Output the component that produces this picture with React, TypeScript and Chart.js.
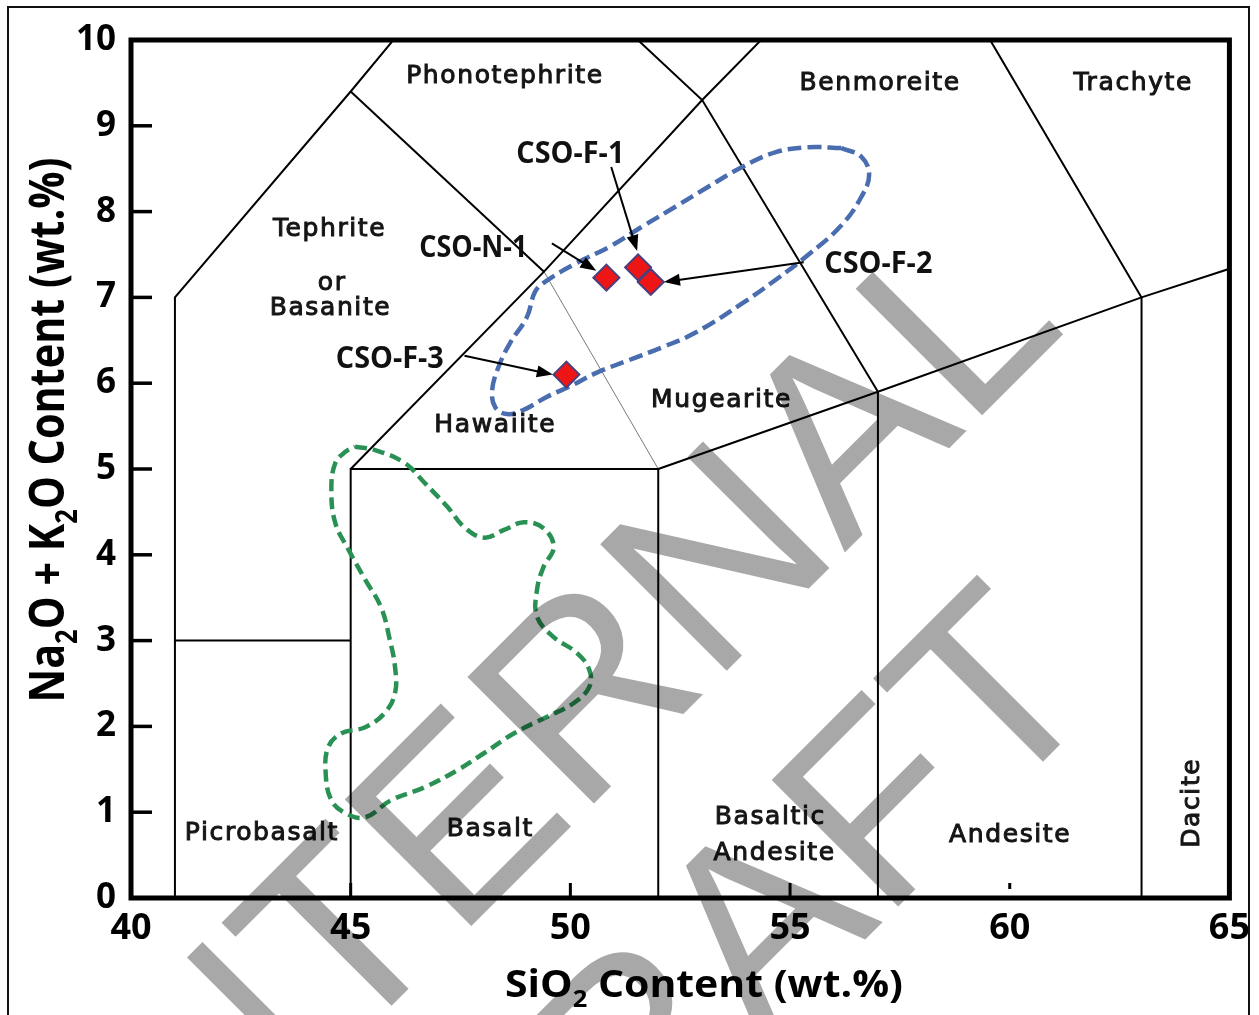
import React, { useEffect, useRef } from "react";
import { Chart, registerables } from "chart.js";

Chart.register(...registerables);

// ---------- axes ----------
const xTickValues = [40, 45, 50, 55, 60, 65];
const yTickValues = [0, 1, 2, 3, 4, 5, 6, 7, 8, 9, 10];
const xTickMarks = [45, 50, 55];
const yTickMarks = [1, 2, 3, 4, 5, 6, 7, 8, 9];

// ---------- TAS field boundaries (SiO2, Na2O+K2O) ----------
const picrobasaltLeft = [[41, 0], [41, 7], [45, 9.4], [48.4, 11.5]];
const picrobasaltTop = [[41, 3], [45, 3]];
const basaltBox = [[45, 0], [45, 5], [52, 5], [52, 0]];
const trachybasaltLine = [[45, 5], [49.4, 7.3], [53, 9.3], [57.6, 11.7]];
const phonotephriteLine = [[45, 9.4], [49.4, 7.3]];
const lowerAlkaliLine = [[52, 5], [57, 5.9], [63, 7], [69, 8]];
const benmoreiteLine = [[57, 0], [57, 5.9], [53, 9.3], [48.4, 11.5]];
const trachyteLine = [[63, 0], [63, 7], [57.6, 11.7]];
const hawaiiteMugeariteLine = [[49.4, 7.3], [52, 5]];

// ---------- samples ----------
const sampleNames = ["CSO-N-1", "CSO-F-1", "CSO-F-2", "CSO-F-3"];
const sampleSiO2 = [50.82, 51.54, 51.83, 49.91];
const sampleAlkali = [7.23, 7.35, 7.18, 6.1];

// label anchors for the samples and their arrows (data units)
const sampleLabelSiO2 = [47.79, 50.0, 57.01, 45.89];
const sampleLabelAlkali = [7.47, 8.57, 7.28, 6.18];
const arrowFromSiO2 = [49.58, 50.93, 55.31, 47.59];
const arrowFromAlkali = [7.63, 8.52, 7.41, 6.32];
const arrowToSiO2 = [50.59, 51.52, 52.13, 49.6];
const arrowToAlkali = [7.31, 7.54, 7.18, 6.1];

// ---------- reference fields (dashed outlines) ----------
const blueFieldSiO2 = [56.17, 55.4, 54.66, 53.91, 53.14, 52.4, 51.65, 50.89, 50.14, 49.39, 49.19, 49.01, 48.63, 48.38, 48.22, 48.29, 48.56, 48.94, 49.46, 49.98, 50.59, 51.34, 52.1, 52.85, 53.91, 54.66, 55.4, 56.17, 56.62, 56.8, 56.62, 56.17];
const blueFieldAlkali = [8.74, 8.75, 8.69, 8.52, 8.29, 8.06, 7.83, 7.59, 7.4, 7.17, 7.06, 6.77, 6.47, 6.21, 5.92, 5.72, 5.64, 5.69, 5.84, 5.96, 6.12, 6.27, 6.42, 6.59, 6.93, 7.2, 7.49, 7.84, 8.17, 8.43, 8.64, 8.74];
const greenFieldSiO2 = [45.1, 45.56, 46.23, 46.68, 47.2, 47.59, 48.04, 48.49, 48.94, 49.39, 49.62, 49.39, 49.24, 49.24, 49.62, 50.14, 50.43, 50.43, 50.07, 49.46, 48.72, 48.04, 47.43, 46.68, 45.92, 45.33, 44.88, 44.56, 44.43, 44.49, 44.79, 45.33, 45.78, 46.01, 46.01, 45.89, 45.69, 45.33, 44.95, 44.65, 44.56, 44.65, 44.88, 45.1];
const greenFieldAlkali = [5.26, 5.22, 5.07, 4.84, 4.56, 4.32, 4.2, 4.29, 4.38, 4.31, 4.09, 3.86, 3.59, 3.28, 3.04, 2.86, 2.66, 2.46, 2.27, 2.11, 1.92, 1.69, 1.49, 1.29, 1.14, 0.94, 0.99, 1.14, 1.46, 1.76, 1.92, 1.99, 2.16, 2.39, 2.69, 3.01, 3.39, 3.71, 4.06, 4.37, 4.76, 5.07, 5.2, 5.26];

// ---------- field names ----------
const fieldNames = ["Phonotephrite", "Benmoreite", "Trachyte", "Tephrite", "or", "Basanite", "Hawaiite", "Mugearite", "Picrobasalt", "Basalt", "Basaltic", "Andesite", "Andesite", "Dacite"];
const fieldNameSiO2 = [48.51, 57.05, 62.81, 44.52, 44.58, 44.54, 48.29, 53.44, 42.98, 48.18, 54.55, 54.65, 60.01, 64.3];
const fieldNameAlkali = [9.5, 9.42, 9.42, 7.72, 7.09, 6.79, 5.43, 5.72, 0.68, 0.72, 0.86, 0.44, 0.65, 1.11];
const fieldNameVertical = [false, false, false, false, false, false, false, false, false, false, false, false, false, true];

const watermarkWords = ["INTERNAL", "DRAFT"];

const toPoints = (xs: number[], ys: number[]) => xs.map((x, i) => ({ x, y: ys[i] }));
const pairs = (arr: number[][]) => arr.map(([x, y]) => ({ x, y }));

type Run = { t: string; sub?: boolean };

function drawRich(ctx: CanvasRenderingContext2D, runs: Run[], size: number, family: string, target: number) {
  const widths = runs.map((r) => {
    ctx.font = `bold ${r.sub ? size * 0.62 : size}px ${family}`;
    return ctx.measureText(r.t).width;
  });
  const total = widths.reduce((a, b) => a + b, 0);
  const sx = target / total;
  ctx.save();
  ctx.scale(sx, 1);
  let cx = -total / 2;
  ctx.textAlign = "left";
  ctx.textBaseline = "alphabetic";
  runs.forEach((r, i) => {
    ctx.font = `bold ${r.sub ? size * 0.62 : size}px ${family}`;
    ctx.fillText(r.t, cx, r.sub ? size * 0.27 : 0);
    cx += widths[i];
  });
  ctx.restore();
}

function drawArrow(ctx: CanvasRenderingContext2D, x1: number, y1: number, x2: number, y2: number) {
  const a = Math.atan2(y2 - y1, x2 - x1);
  const hl = 16;
  const hw = 6;
  const c = Math.cos(a);
  const s = Math.sin(a);
  ctx.beginPath();
  ctx.moveTo(x1, y1);
  ctx.lineTo(x2 - hl * 0.8 * c, y2 - hl * 0.8 * s);
  ctx.stroke();
  ctx.beginPath();
  ctx.moveTo(x2, y2);
  ctx.lineTo(x2 - hl * c + hw * s, y2 - hl * s - hw * c);
  ctx.lineTo(x2 - hl * c - hw * s, y2 - hl * s + hw * c);
  ctx.closePath();
  ctx.fill();
}

const decorPlugin = {
  id: "tasDecor",
  beforeDraw(chart: any) {
    const ctx = chart.ctx as CanvasRenderingContext2D;
    ctx.save();
    ctx.fillStyle = "#ffffff";
    ctx.fillRect(0, 0, chart.width, chart.height);
    ctx.restore();
  },
  afterDatasetsDraw(chart: any) {
    const ctx = chart.ctx as CanvasRenderingContext2D;
    const { left, right, top, bottom } = chart.chartArea;
    const xs = chart.scales.x;
    const ys = chart.scales.y;
    const px = (v: number) => xs.getPixelForValue(v);
    const py = (v: number) => ys.getPixelForValue(v);
    ctx.save();

    // plot frame
    ctx.strokeStyle = "#000";
    ctx.lineWidth = 5;
    ctx.lineCap = "square";
    ctx.beginPath();
    ctx.moveTo(left, top);
    ctx.lineTo(right, top);
    ctx.lineTo(right, bottom);
    ctx.lineTo(left, bottom);
    ctx.closePath();
    ctx.stroke();
    ctx.lineCap = "butt";

    // inner tick marks
    ctx.lineWidth = 3.5;
    yTickMarks.forEach((v) => {
      ctx.beginPath();
      ctx.moveTo(left, py(v));
      ctx.lineTo(left + 21, py(v));
      ctx.stroke();
    });
    ctx.lineWidth = 3;
    xTickMarks.forEach((v) => {
      ctx.beginPath();
      ctx.moveTo(px(v), bottom);
      ctx.lineTo(px(v), bottom - 15);
      ctx.stroke();
    });
    ctx.fillRect(px(60) - 1.5, bottom - 15, 3, 6);

    // arrows
    ctx.lineWidth = 2;
    ctx.fillStyle = "#000";
    sampleNames.forEach((_, i) => {
      drawArrow(ctx, px(arrowFromSiO2[i]), py(arrowFromAlkali[i]), px(arrowToSiO2[i]), py(arrowToAlkali[i]));
    });

    // sample labels
    ctx.fillStyle = "#111";
    sampleNames.forEach((n, i) => {
      ctx.save();
      ctx.translate(px(sampleLabelSiO2[i]), py(sampleLabelAlkali[i]));
      drawRich(ctx, [{ t: n }], 31, '"Open Sans"', 108);
      ctx.restore();
    });

    // field names
    ctx.fillStyle = "#151515";
    ctx.strokeStyle = "#151515";
    ctx.lineWidth = 1;
    ctx.textAlign = "center";
    ctx.textBaseline = "alphabetic";
    ctx.font = '25px "DejaVu Sans"';
    (ctx as any).letterSpacing = "1.6px";
    fieldNames.forEach((n, i) => {
      ctx.save();
      ctx.translate(px(fieldNameSiO2[i]), py(fieldNameAlkali[i]));
      if (fieldNameVertical[i]) ctx.rotate(-Math.PI / 2);
      ctx.fillText(n, 0, 0);
      ctx.strokeText(n, 0, 0);
      ctx.restore();
    });
    (ctx as any).letterSpacing = "0px";

    // axis titles
    ctx.fillStyle = "#000";
    ctx.save();
    ctx.translate(704, 997);
    drawRich(ctx, [{ t: "SiO" }, { t: "2", sub: true }, { t: " Content (wt.%)" }], 38, '"Open Sans"', 398);
    ctx.restore();
    ctx.save();
    ctx.translate(64, 430);
    ctx.rotate(-Math.PI / 2);
    drawRich(ctx, [{ t: "Na" }, { t: "2", sub: true }, { t: "O + K" }, { t: "2", sub: true }, { t: "O Content (wt.%)" }], 49, '"Open Sans"', 545);
    ctx.restore();

    // outer frame
    ctx.strokeStyle = "#111";
    ctx.lineWidth = 2;
    ctx.strokeRect(8, 7, 1241, 1100);
    ctx.restore();
  },
  afterDraw(chart: any) {
    const ctx = chart.ctx as CanvasRenderingContext2D;
    ctx.save();
    ctx.globalCompositeOperation = "multiply";
    ctx.fillStyle = "rgb(168,168,168)";
    ctx.font = '260px "Liberation Sans"';
    ctx.textAlign = "center";
    ctx.textBaseline = "alphabetic";
    ctx.translate(708, 893);
    ctx.rotate(-Math.PI / 4);
    ctx.fillText(watermarkWords[0], 12, -144);
    ctx.fillText(watermarkWords[1], -12, 144);
    ctx.restore();
  },
};

export default function App() {
  const ref = useRef<HTMLCanvasElement | null>(null);
  useEffect(() => {
    if (!ref.current) return;
    const boundaryStyle = { showLine: true, borderColor: "#000", borderWidth: 2, pointRadius: 0, tension: 0, order: 5 };
    const chart = new Chart(ref.current, {
      type: "scatter",
      data: {
        datasets: [
          {
            label: "Samples",
            data: toPoints(sampleSiO2, sampleAlkali),
            pointStyle: "rectRot",
            pointRadius: 13,
            pointBorderWidth: 2,
            pointBackgroundColor: "#ee1515",
            pointBorderColor: "#4a3f7e",
            showLine: false,
            order: 0,
          },
          {
            label: "Blue field",
            data: toPoints(blueFieldSiO2, blueFieldAlkali),
            showLine: true,
            borderColor: "#4a6db0",
            borderWidth: 4.5,
            borderDash: [14, 6],
            pointRadius: 0,
            tension: 0.4,
            order: 2,
          },
          {
            label: "Green field",
            data: toPoints(greenFieldSiO2, greenFieldAlkali),
            showLine: true,
            borderColor: "#2a9155",
            borderWidth: 4.5,
            borderDash: [12, 6],
            pointRadius: 0,
            tension: 0.4,
            order: 2,
          },
          ...[picrobasaltLeft, picrobasaltTop, basaltBox, trachybasaltLine, phonotephriteLine, lowerAlkaliLine, benmoreiteLine, trachyteLine].map((l, i) => ({
            label: "b" + i,
            data: pairs(l),
            ...boundaryStyle,
          })),
          { label: "thin", data: pairs(hawaiiteMugeariteLine), ...boundaryStyle, borderColor: "#7a7a7a", borderWidth: 1 },
        ] as any,
      },
      options: {
        animation: false,
        responsive: true,
        maintainAspectRatio: false,
        layout: { padding: { top: 40, right: 21, left: 0, bottom: 0 } },
        plugins: { legend: { display: false }, tooltip: { enabled: false } },
        scales: {
          x: {
            type: "linear",
            min: 40,
            max: 65,
            afterBuildTicks: (s: any) => {
              s.ticks = xTickValues.map((v) => ({ value: v }));
            },
            afterFit: (s: any) => {
              s.height = 117;
            },
            grid: { display: false, drawTicks: false },
            border: { display: false },
            ticks: { color: "#000", padding: 9, autoSkip: false, maxRotation: 0, font: { family: "Open Sans", weight: "bold", size: 36 } },
          },
          y: {
            type: "linear",
            min: 0,
            max: 10,
            afterBuildTicks: (s: any) => {
              s.ticks = yTickValues.map((v) => ({ value: v }));
            },
            afterFit: (s: any) => {
              s.width = 131;
            },
            grid: { display: false, drawTicks: false },
            border: { display: false },
            ticks: { color: "#000", padding: 15, autoSkip: false, font: { family: "Open Sans", weight: "bold", size: 35 } },
          },
        },
      } as any,
      plugins: [decorPlugin],
    });
    return () => chart.destroy();
  }, []);
  return (
    <div style={{ position: "fixed", left: 0, top: 0, width: 1259, height: 1015, background: "#fff" }}>
      <canvas ref={ref} style={{ display: "block" }} />
    </div>
  );
}
